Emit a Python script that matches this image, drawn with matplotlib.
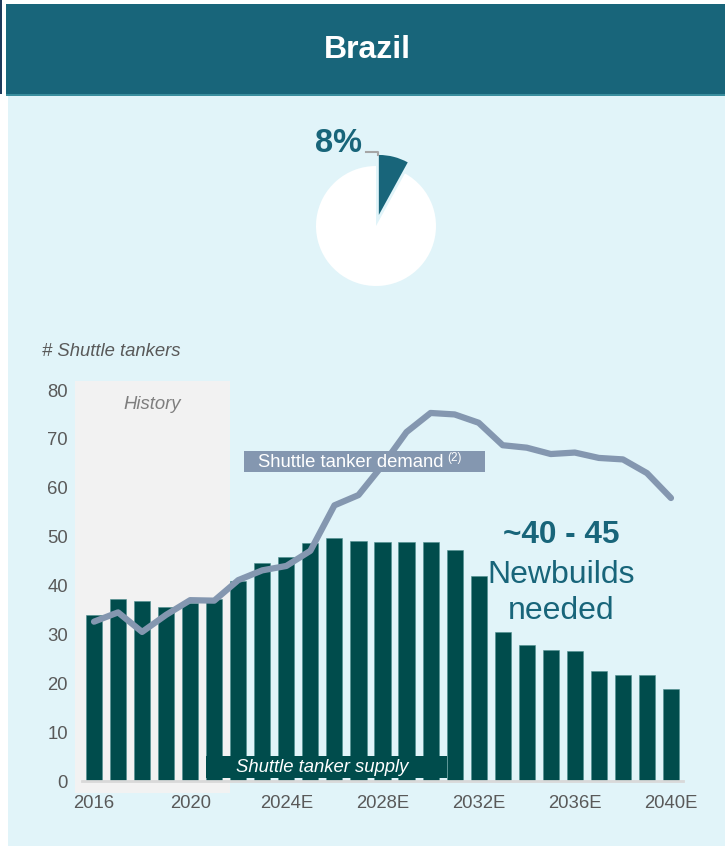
import matplotlib
matplotlib.use("Agg")
import matplotlib.pyplot as plt
from matplotlib.patches import Rectangle
import numpy as np

plt.rcParams['font.family'] = ['Liberation Sans', 'DejaVu Sans']

# ---- data ----
years = [str(y) for y in range(2016, 2022)] + [f"{y}E" for y in range(2022, 2041)]
supply = [34, 37.3, 36.8, 35.6, 36.4, 37.2, 41.0, 44.6, 45.8, 48.6, 49.8, 49.2, 48.8,
          48.8, 48.8, 47.2, 42.0, 30.5, 27.8, 26.9, 26.6, 22.6, 21.7, 21.7, 18.9]
demand = [32.6, 34.5, 30.5, 34.0, 37.0, 36.9, 41.1, 43.1, 44.0, 47.1, 56.4, 58.5, 64.6,
          71.4, 75.3, 75.0, 73.3, 68.7, 68.2, 66.9, 67.2, 66.1, 65.8, 63.0, 57.9]
tick_years = ["2016", "2020", "2024E", "2028E", "2032E", "2036E", "2040E"]
yticks = [0, 10, 20, 30, 40, 50, 60, 70, 80]
pie_share = [8, 92]
history_end = "2021"

W, H = 725, 846
PANEL = '#E1F4F9'
HEADER = '#18657A'
BAR = '#004C4C'
LINE = '#8497B0'
GREY = '#595959'
FS = 13.3

fig = plt.figure(figsize=(W / 100, H / 100), dpi=100)
fig.patch.set_facecolor('white')


def fx(px):
    return px / W


def fy(py):
    return 1 - py / H


# background panel and header band
fig.patches.append(Rectangle((fx(8), 0), 1 - fx(8), fy(94), transform=fig.transFigure,
                             facecolor=PANEL, edgecolor='none', zorder=-5))
fig.patches.append(Rectangle((fx(6), fy(94)), 1 - fx(6), fy(4) - fy(94), transform=fig.transFigure,
                             facecolor=HEADER, edgecolor='none', zorder=-5))
fig.patches.append(Rectangle((fx(6), fy(96)), 1 - fx(6), fy(94) - fy(96), transform=fig.transFigure,
                             facecolor='#3A8E9E', edgecolor='none', zorder=-5))
fig.patches.append(Rectangle((0, fy(94)), fx(2), fy(0) - fy(94), transform=fig.transFigure,
                             facecolor='#1F3A5A', edgecolor='none', zorder=-5))
fig.text(fx(367), fy(50), "Brazil", color='white', fontsize=23, fontweight='bold',
         ha='center', va='center')

# ---- pie ----
pax = fig.add_axes([fx(316), fy(286), fx(120), fy(166) - fy(286)])
pax.set_aspect('equal')
wedges, _ = pax.pie(pie_share, colors=[HEADER, 'white'], startangle=90, counterclock=False,
                    explode=[0.19, 0], radius=1, wedgeprops=dict(linewidth=0))
for w in wedges:
    w.set_clip_on(False)
pax.set_xlim(-1, 1)
pax.set_ylim(-1, 1)
pax.axis('off')
pax.plot([-0.167, 0.033, 0.033], [1.233, 1.233, 1.183], color='#A6A6A6', lw=1.5, clip_on=False)
pax.text(-0.633, 1.383, f"{pie_share[0]}%", color=HEADER, fontsize=23.5, fontweight='bold',
         ha='center', va='center', clip_on=False)

# ---- main chart ----
ax = fig.add_axes([fx(82), fy(781), fx(683) - fx(82), fy(390) - fy(781)])
ax.set_facecolor('none')
x = np.arange(len(years))
hist_idx = years.index(history_end)

ax.add_patch(Rectangle((-0.79, -2.5), hist_idx + 0.65 + 0.79, 84.3, facecolor='#F2F2F2',
                       edgecolor='none', zorder=0, clip_on=False))
ax.text((hist_idx + 0.65 - 0.79) / 2, 77, "History", style='italic', color='#7F7F7F',
        fontsize=FS, ha='center', va='center')

ax.bar(x, supply, width=0.67, color=BAR, edgecolor='#4F8F90', linewidth=0.4, zorder=2)
ax.plot(x, demand, color=LINE, lw=4.5, zorder=3, solid_joinstyle='round',
        solid_capstyle='round')

ax.set_xlim(-0.5, len(years) - 0.5)
ax.set_ylim(0, 80)
ax.set_yticks(yticks)
ax.set_yticklabels([str(v) for v in yticks], color=GREY, fontsize=FS)
ax.set_xticks([years.index(t) for t in tick_years])
ax.set_xticklabels(tick_years, color=GREY, fontsize=FS)
ax.tick_params(axis='both', length=0)
ax.tick_params(axis='y', pad=10)
ax.tick_params(axis='x', pad=10)
for s in ['top', 'right', 'left']:
    ax.spines[s].set_visible(False)
ax.spines['bottom'].set_color('#D9D9D9')
ax.spines['bottom'].set_linewidth(2)
ax.spines['bottom'].set_zorder(5)

fig.text(fx(42), fy(352), "# Shuttle tankers", style='italic', color=GREY, fontsize=FS,
         ha='left', va='center')

# series labels
fig.patches.append(Rectangle((fx(244), fy(472)), fx(485) - fx(244), fy(451) - fy(472),
                             transform=fig.transFigure, facecolor=LINE, edgecolor='none', zorder=4))
fig.text(fx(258), fy(462), "Shuttle tanker demand", color='white', fontsize=FS,
         ha='left', va='center', zorder=5)
fig.text(fx(447), fy(458), "(2)", color='white', fontsize=8.5, ha='left', va='center', zorder=5)

fig.patches.append(Rectangle((fx(206), fy(778)), fx(447) - fx(206), fy(756) - fy(778),
                             transform=fig.transFigure, facecolor=BAR, edgecolor='none', zorder=4))
fig.text(fx(236), fy(767), "Shuttle tanker supply", color='white', fontsize=FS, style='italic',
         ha='left', va='center', zorder=5)

# newbuild annotation
fig.text(fx(561), fy(535), "~40 - 45", color=HEADER, fontsize=22.7, fontweight='bold',
         ha='center', va='center')
fig.text(fx(561), fy(575), "Newbuilds", color=HEADER, fontsize=23, ha='center', va='center')
fig.text(fx(561), fy(611), "needed", color=HEADER, fontsize=23, ha='center', va='center')

fig.savefig("out.png", dpi=100, facecolor=fig.get_facecolor())
